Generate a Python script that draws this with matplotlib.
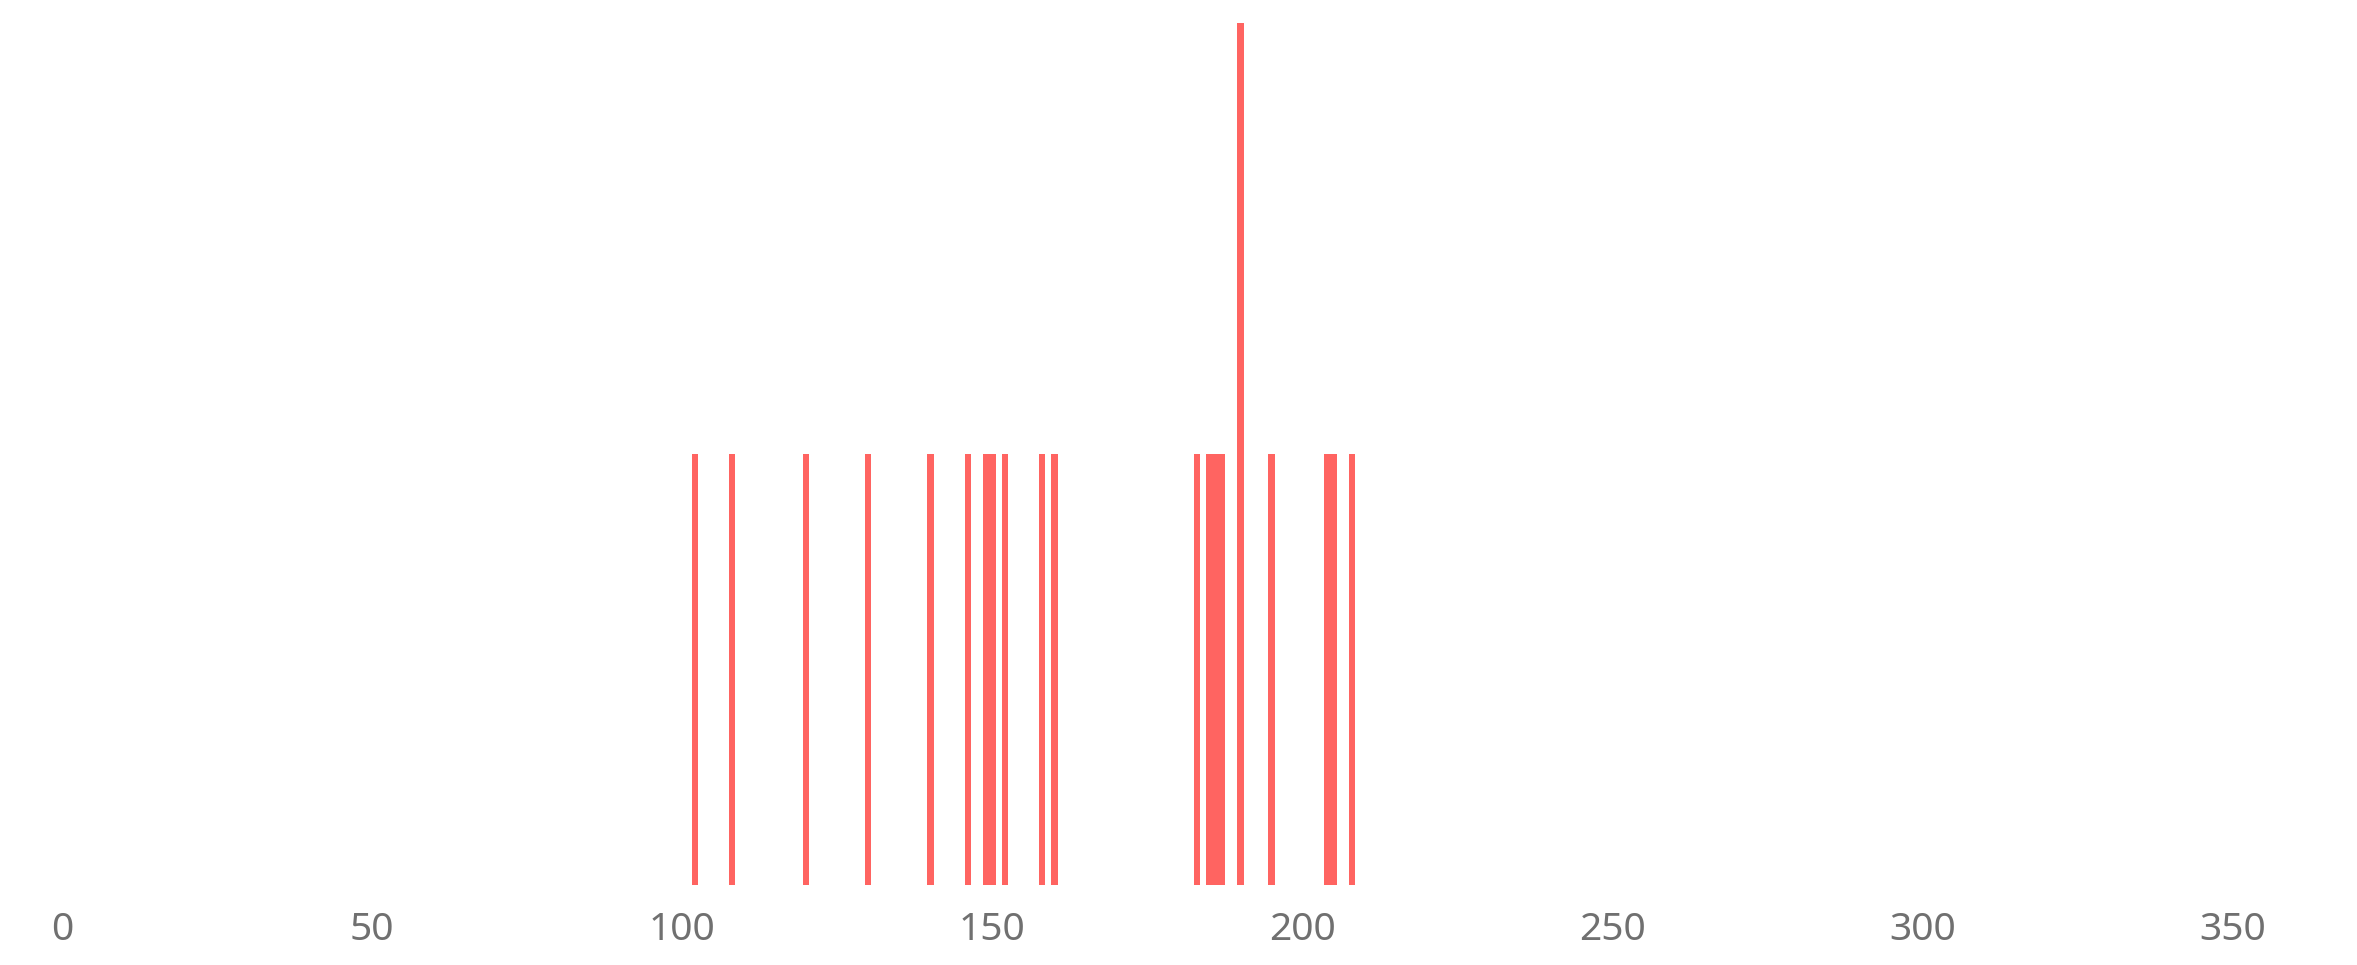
import matplotlib
matplotlib.use("Agg")
import matplotlib.pyplot as plt

# Data: bin positions and counts
positions = [102, 108, 120, 130, 140, 146, 149, 150, 152, 158, 160,
             183, 185, 186, 187, 190, 195, 204, 205, 208]
counts = [1, 1, 1, 1, 1, 1, 1, 1, 1, 1, 1,
          1, 1, 1, 1, 2, 1, 1, 1, 1]
xticks = [0, 50, 100, 150, 200, 250, 300, 350]

W, H = 2357, 965
fig = plt.figure(figsize=(W / 100, H / 100), dpi=100)
ax = fig.add_axes([62 / W, (H - 885) / H, (2233 - 62) / W, (885 - 23) / H])

ax.bar(positions, counts, width=1.0, color="#FF6461", linewidth=0)

ax.set_xlim(0, 350)
ax.set_ylim(0, max(counts))
ax.set_xticks(xticks)
ax.set_xticklabels([str(t) for t in xticks])
ax.set_yticks([])
for s in ax.spines.values():
    s.set_visible(False)
ax.tick_params(axis="x", length=0, pad=19, labelsize=28, labelcolor="#707070")
for lab in ax.get_xticklabels():
    lab.set_fontfamily("Noto Sans")
    lab.set_fontweight("light")

fig.savefig("out.png", dpi=100, facecolor="white")
